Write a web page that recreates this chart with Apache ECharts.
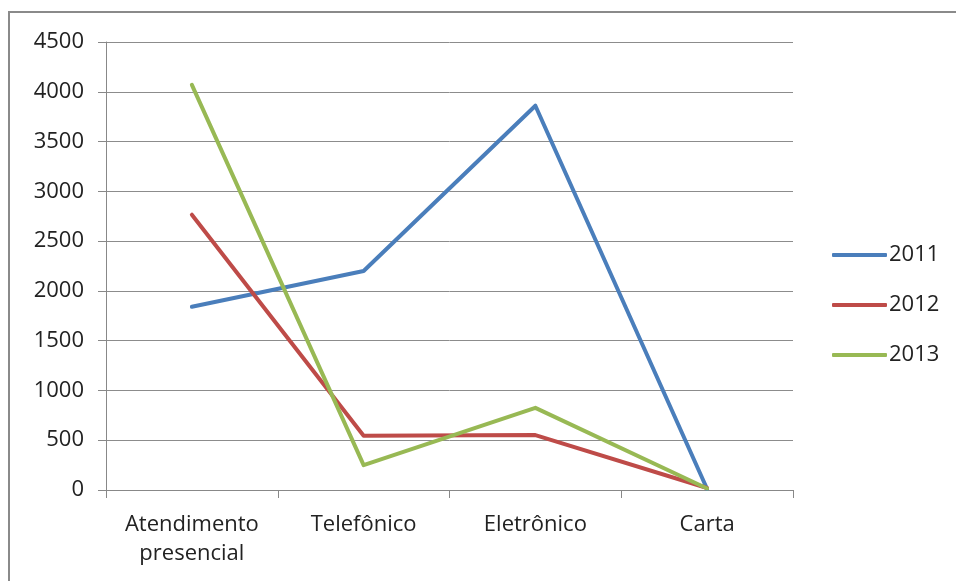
<!DOCTYPE html>
<html>
<head>
<meta charset="utf-8">
<script src="https://cdn.jsdelivr.net/npm/echarts@6/dist/echarts.min.js"></script>
<style>
  html, body { margin: 0; padding: 0; background: #fff; }
  #chart { width: 956px; height: 581px; }
</style>
</head>
<body>
<div id="chart"></div>
<script>
var categories = ['Atendimento\npresencial', 'Telefônico', 'Eletrônico', 'Carta'];
var years = ['2011', '2012', '2013'];
var values2011 = [1840, 2200, 3860, 10];
var values2012 = [2765, 545, 552, 20];
var values2013 = [4070, 250, 825, 15];
var colors = ['#4a7ebb', '#be4b48', '#98b954'];

var chart = echarts.init(document.getElementById('chart'));

function line(name, data, color) {
    return {
        name: name,
        type: 'line',
        data: data,
        showSymbol: false,
        symbol: 'none',
        lineStyle: { width: 4, color: color, cap: 'round', join: 'round' },
        itemStyle: { color: color }
    };
}

chart.setOption({
    animation: false,
    textStyle: { fontFamily: 'Open Sans' },
    graphic: [{
        type: 'polyline',
        shape: { points: [[9, 600], [9, 12], [980, 12]] },
        style: { stroke: '#8a8a8a', lineWidth: 2, fill: null }
    }],
    grid: { left: 106, right: 163, top: 42, bottom: 91 },
    legend: {
        orient: 'vertical',
        left: 827,
        top: 238,
        icon: 'roundRect',
        itemWidth: 55,
        itemHeight: 4,
        itemGap: 26,
        textStyle: { fontSize: 22, color: '#222', padding: [0, 0, 0, -3], lineHeight: 24 },
        data: years
    },
    xAxis: {
        type: 'category',
        data: categories,
        boundaryGap: true,
        axisLine: { lineStyle: { color: '#888', width: 1 } },
        axisTick: { show: true, interval: 0, length: 8, lineStyle: { color: '#888' } },
        axisLabel: { interval: 0, hideOverlap: false, fontSize: 22, color: '#222', margin: 20, lineHeight: 29 }
    },
    yAxis: {
        type: 'value',
        min: 0,
        max: 4500,
        interval: 500,
        axisLine: { show: true, lineStyle: { color: '#888', width: 1 } },
        axisTick: { show: true, length: 8, lineStyle: { color: '#888' } },
        splitLine: { lineStyle: { color: '#8c8c8c', width: 1 } },
        axisLabel: { fontSize: 22, color: '#222', margin: 22, formatter: function (v) { return String(v); } }
    },
    series: [
        line(years[0], values2011, colors[0]),
        line(years[1], values2012, colors[1]),
        line(years[2], values2013, colors[2])
    ]
});
</script>
</body>
</html>
